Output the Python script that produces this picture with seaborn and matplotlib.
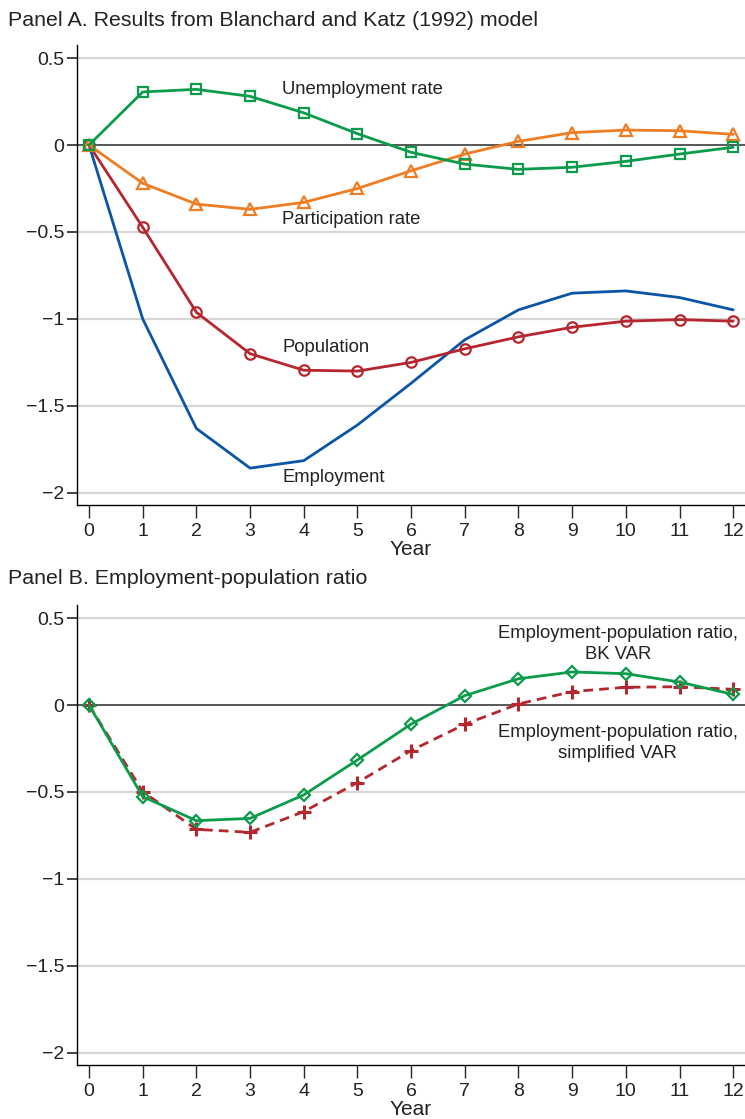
import matplotlib
matplotlib.use("Agg")
import matplotlib.pyplot as plt
import seaborn as sns
import numpy as np
import pandas as pd

sns.set_style("white")
plt.rcParams["font.family"] = ["Liberation Sans", "DejaVu Sans"]
plt.rcParams["axes.unicode_minus"] = True

years = list(range(13))

# Panel A: responses from the Blanchard-Katz model
unemployment = [0.0, 0.305, 0.32, 0.28, 0.185, 0.065, -0.042, -0.11, -0.14, -0.128, -0.094, -0.052, -0.013]
participation = [0.0, -0.22, -0.34, -0.37, -0.33, -0.25, -0.148, -0.052, 0.021, 0.071, 0.086, 0.082, 0.061]
population = [0.0, -0.473, -0.962, -1.2, -1.295, -1.30, -1.25, -1.172, -1.103, -1.048, -1.013, -1.004, -1.013]
employment = [0.0, -1.0, -1.63, -1.858, -1.815, -1.61, -1.37, -1.12, -0.948, -0.852, -0.839, -0.877, -0.948]

# Panel B: employment-population ratio
epop_bk = [0.0, -0.527, -0.665, -0.652, -0.517, -0.316, -0.11, 0.054, 0.151, 0.19, 0.18, 0.132, 0.061]
epop_simple = [0.0, -0.498, -0.715, -0.732, -0.613, -0.446, -0.262, -0.111, 0.006, 0.077, 0.102, 0.105, 0.09]

ytick_vals = [0.5, 0, -0.5, -1, -1.5, -2]
ytick_labels = ["0.5", "0", "\u22120.5", "\u22121", "\u22121.5", "\u22122"]

GREEN = "#0a9b4b"
ORANGE = "#ee7d24"
RED = "#b5262e"
BLUE = "#0b55a6"

W, H = 745, 1119
fig = plt.figure(figsize=(W / 100, H / 100), dpi=100)

def box(top, bottom, left=77, right=745):
    return [left / W, 1 - bottom / H, (right - left) / W, (bottom - top) / H]

axA = fig.add_axes(box(45, 505))
axB = fig.add_axes(box(605, 1065))

def style_axes(ax):
    ax.set_xlim(-0.224, 12.22)
    ax.set_ylim(-2.07, 0.575)
    ax.set_yticks(ytick_vals)
    ax.set_yticklabels(ytick_labels, fontsize=14)
    ax.set_xticks(years)
    ax.set_xticklabels([str(y) for y in years], fontsize=14)
    for v in ytick_vals:
        if v != 0:
            ax.axhline(v, color="#d6d6d6", lw=1.6, zorder=0)
    ax.axhline(0, color="#4a4a4a", lw=1.3, zorder=1)
    for s in ["top", "right"]:
        ax.spines[s].set_visible(False)
    for s in ["left", "bottom"]:
        ax.spines[s].set_color("black")
        ax.spines[s].set_linewidth(1.0)
    ax.tick_params(axis="y", direction="out", length=7, width=1.2, pad=2, left=True,
                   labelcolor="#222222")
    ax.tick_params(axis="x", direction="out", length=9, width=1.0, pad=4, bottom=True,
                   labelcolor="#222222")
    ax.set_xlabel("Year", fontsize=15, labelpad=0, color="#222222")
    ax.set_ylabel("")

def draw(ax, y, color, marker=None, ls="-", ms=7, mew=1.6):
    df = pd.DataFrame({"year": years, "value": y})
    kws = dict(color=color, lw=2.0, linestyle=ls, zorder=3)
    if marker is not None:
        kws.update(marker=marker, markersize=ms, markerfacecolor="none",
                   markeredgecolor=color, markeredgewidth=mew)
    sns.lineplot(data=df, x="year", y="value", ax=ax, **kws)

draw(axA, employment, BLUE)
draw(axA, population, RED, marker="o", ms=7.5)
draw(axA, participation, ORANGE, marker="^", ms=8.5)
draw(axA, unemployment, GREEN, marker="s", ms=7)
style_axes(axA)

lbl = dict(fontsize=13.3, color="#222222", va="center", ha="left")
axA.text(3.6, 0.32, "Unemployment rate", **lbl)
axA.text(3.6, -0.43, "Participation rate", **lbl)
axA.text(3.6, -1.165, "Population", **lbl)
axA.text(3.6, -1.91, "Employment", **lbl)

draw(axB, epop_simple, RED, marker="+", ls=(0, (3.5, 2.2)), ms=10, mew=2.2)
draw(axB, epop_bk, GREEN, marker="D", ms=6.5)
style_axes(axB)

lblc = dict(fontsize=13.3, color="#222222", va="center", ha="center", linespacing=1.3)
axB.text(9.85, 0.35, "Employment-population ratio,\nBK VAR", **lblc)
axB.text(9.85, -0.221, "Employment-population ratio,\nsimplified VAR", **lblc)

fig.text(8 / W, 1 - 20 / H, "Panel A. Results from Blanchard and Katz (1992) model",
         fontsize=15.4, color="#222222", va="center", ha="left")
fig.text(8 / W, 1 - 578 / H, "Panel B. Employment-population ratio",
         fontsize=15.4, color="#222222", va="center", ha="left")

fig.savefig("out.png", dpi=100)
